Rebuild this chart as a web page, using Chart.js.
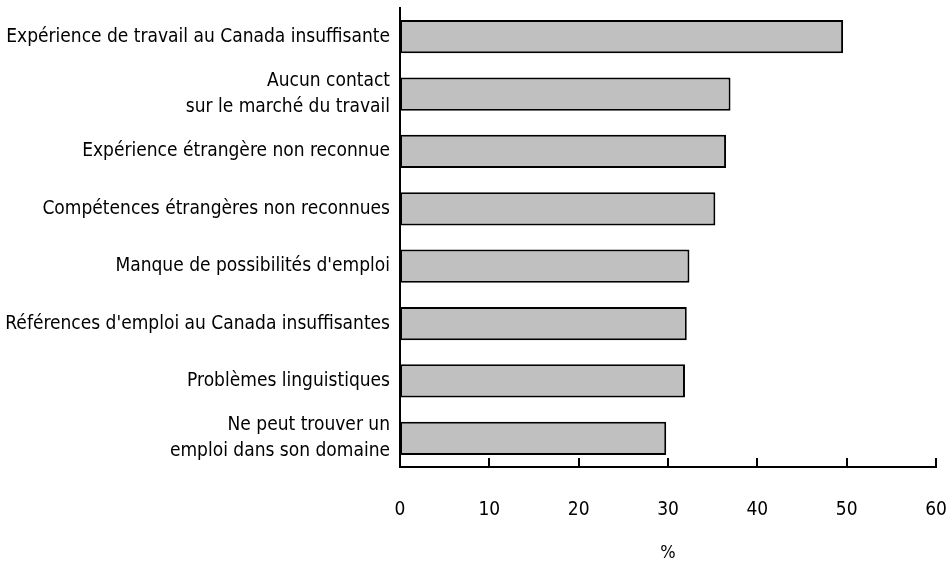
<!DOCTYPE html>
<html>
<head>
<meta charset="utf-8">
<script src="https://cdn.jsdelivr.net/npm/chart.js@4/dist/chart.umd.min.js"></script>
<style>
  html, body { margin: 0; padding: 0; background: #fff; }
  #wrap { width: 952px; height: 562px; }
</style>
</head>
<body>
<div id="wrap"><canvas id="chart"></canvas></div>
<script>
const categories = [
    'Expérience de travail au Canada insuffisante',
    ['Aucun contact', 'sur le marché du travail'],
    'Expérience étrangère non reconnue',
    'Compétences étrangères non reconnues',
    'Manque de possibilités d\'emploi',
    'Références d\'emploi au Canada insuffisantes',
    'Problèmes linguistiques',
    ['Ne peut trouver un', 'emploi dans son domaine']
];
const values = [49.6, 37.0, 36.5, 35.3, 32.4, 32.1, 31.9, 29.8];
const xTicks = [0, 10, 20, 30, 40, 50, 60];
const xTitle = '%';

const FONT = '"DejaVu Sans Condensed", "Liberation Sans Narrow", sans-serif';

// petites marques vers le haut sur l'axe des x
const tickMarks = {
    id: 'tickMarks',
    afterDatasetsDraw(chart) {
        const ctx = chart.ctx;
        const x = chart.scales.x;
        const y0 = chart.chartArea.bottom;
        ctx.save();
        ctx.strokeStyle = '#000';
        ctx.lineWidth = 2;
        ctx.beginPath();
        xTicks.forEach(v => {
            const px = Math.round(x.getPixelForValue(v));
            ctx.moveTo(px, y0);
            ctx.lineTo(px, y0 - 9);
        });
        ctx.stroke();
        ctx.restore();
    }
};

new Chart(document.getElementById('chart'), {
    type: 'bar',
    data: {
        labels: categories,
        datasets: [{
            data: values,
            backgroundColor: '#c0c0c0',
            borderColor: '#000',
            borderWidth: 2,
            borderSkipped: false,
            categoryPercentage: 1,
            barPercentage: 0.58
        }]
    },
    options: {
        indexAxis: 'y',
        responsive: true,
        maintainAspectRatio: false,
        animation: false,
        layout: { padding: { top: 8, right: 16, left: 0, bottom: 0 } },
        scales: {
            x: {
                min: 0,
                max: 60,
                afterBuildTicks(scale) {
                    scale.ticks = xTicks.map(v => ({ value: v }));
                },
                afterFit(scale) {
                    scale.height = 95;
                    scale.paddingLeft = 0;
                    scale.paddingRight = 0;
                },
                grid: { display: false, drawTicks: false },
                border: { color: '#000', width: 2 },
                ticks: {
                    color: '#000',
                    padding: 32,
                    font: { family: FONT, size: 19 }
                },
                title: {
                    display: true,
                    text: xTitle,
                    color: '#000',
                    padding: { top: 0, bottom: -2 },
                    font: { family: FONT, size: 18 }
                }
            },
            y: {
                afterFit(scale) {
                    scale.width = 400;
                    scale.paddingTop = 0;
                    scale.paddingBottom = 0;
                },
                grid: { display: false, drawTicks: false },
                border: { color: '#000', width: 2 },
                ticks: {
                    color: '#000',
                    padding: 10,
                    font: { family: FONT, size: 19, lineHeight: 1.37 }
                }
            }
        },
        plugins: {
            legend: { display: false },
            tooltip: { enabled: false }
        }
    },
    plugins: [tickMarks]
});
</script>
</body>
</html>
